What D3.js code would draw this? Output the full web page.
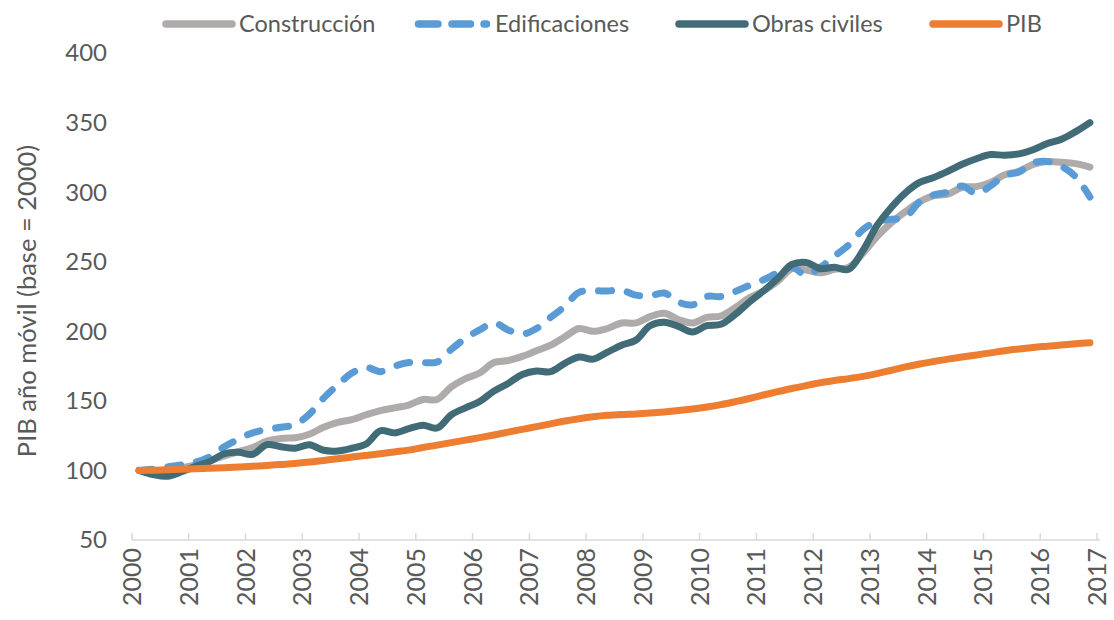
<!DOCTYPE html>
<html>
<head>
<meta charset="utf-8">
<script src="https://cdn.jsdelivr.net/npm/d3@7"></script>
<style>
  body { margin: 0; background: #fff; }
  svg text { font-family: Lato, "Noto Sans", sans-serif; fill: #595959; }
</style>
</head>
<body>
<svg id="chart"></svg>
<script>
// quarterly values, 2000Q1 .. 2016Q4 (index, 2000 = 100)
const construccion = [
  100, 99.5, 100.5, 102, 104, 107, 110.5, 113.5,
  116.5, 121, 123, 123.5, 126, 131, 134.5, 136.5,
  140, 143, 145, 147, 151, 151, 160, 166,
  170, 177.5, 179, 182, 186, 190, 196, 202,
  200, 202, 206, 206, 210.5, 213, 208.5, 206,
  210, 211, 217, 224, 229, 236, 245, 244,
  242, 244.5, 246, 256, 268, 278, 286, 293,
  297.5, 298.5, 303.5, 304, 307, 312.5, 315, 320,
  322, 321.5, 320.5, 318
];
const edificaciones = [
  100, 101, 102.5, 104, 106, 110, 117, 122.5,
  127, 129.5, 131, 133, 140.5, 152, 161.5, 170,
  174, 171, 175, 177.5, 177.5, 178, 187, 195,
  201, 206, 201, 198, 202, 210, 218, 228,
  229, 229, 229.5, 226, 225.5, 227.5, 221, 219,
  225, 225, 228.5, 233, 237, 242, 246, 240.5,
  246, 254, 262, 273, 279, 280.5, 282, 293,
  298, 300, 304.5, 299, 304.5, 312, 314.5, 321,
  322, 318.5, 311, 296.5
];
const obrasCiviles = [
  100, 97, 95.8, 99, 103, 106.5, 112, 113,
  111.5, 118.5, 117, 116, 118.5, 114.5, 114, 116,
  119, 128.5, 127, 130, 132.5, 130.5, 140, 145,
  149.5, 157, 162.5, 169, 171.5, 171, 177, 181.5,
  180, 185, 190, 193.5, 204, 206.5, 203.5, 199.5,
  204, 205, 212, 221, 229, 238, 248, 249.5,
  245, 246, 244.5, 258, 276, 289, 299.5, 307,
  310.5, 315, 320, 324, 327, 326.5, 327.5, 330.5,
  335, 338, 343.5, 350
];
const pib = [
  100, 100.2, 100.5, 100.8, 101.2, 101.6, 102, 102.5,
  103, 103.6, 104.3, 105, 106, 107.2, 108.4, 109.6,
  110.8, 112, 113.3, 114.6, 116.5, 118.2, 120, 121.8,
  123.6, 125.5, 127.5, 129.5, 131.5, 133.5, 135.5, 137.2,
  138.6, 139.6, 140.2, 140.6, 141.2, 142, 143, 144.2,
  145.6, 147.3, 149.4, 151.7, 154.2, 156.6, 158.9, 161,
  163, 164.6, 166, 167.6, 169.6, 172, 174.4, 176.5,
  178.3, 180, 181.5, 183, 184.5, 186, 187.3, 188.4,
  189.3, 190.2, 191, 191.8
];
const years = d3.range(2000, 2018);
const yTicks = [50, 100, 150, 200, 250, 300, 350, 400];

const series = [
  { name: "Construcción", values: construccion, color: "#afabab", dash: null },
  { name: "Edificaciones", values: edificaciones, color: "#5b9bd5", dash: "13,16" },
  { name: "Obras civiles", values: obrasCiviles, color: "#426b78", dash: null },
  { name: "PIB", values: pib, color: "#ed7d31", dash: null }
];

const W = 1114, H = 620;
const margin = { top: 53, right: 17, bottom: 80, left: 132 };
const width = 1097 - margin.left;
const height = 540 - margin.top;

const svg = d3.select("#chart").attr("width", W).attr("height", H);
const g = svg.append("g").attr("transform", `translate(${margin.left},${margin.top})`);

const x = d3.scaleLinear([2000, 2017], [0, width]);
const y = d3.scaleLinear([50, 400], [height, 0]);

// y labels (no axis line)
g.selectAll(".ylab")
  .data(yTicks)
  .enter().append("text")
  .attr("x", -25)
  .attr("y", d => y(d))
  .attr("dy", "0.35em")
  .attr("text-anchor", "end")
  .style("font-size", "24px")
  .text(d => d);

// x axis
const xAxis = g.append("g").attr("transform", `translate(0,${height})`);
xAxis.append("line")
  .attr("x1", 0).attr("x2", width + 3)
  .attr("stroke", "#d9d9d9").attr("stroke-width", 1.5);
xAxis.selectAll(".tick")
  .data(years)
  .enter().append("line")
  .attr("x1", d => x(d)).attr("x2", d => x(d))
  .attr("y1", 0).attr("y2", -7)
  .attr("stroke", "#d9d9d9").attr("stroke-width", 1.5);
xAxis.selectAll(".xlab")
  .data(years)
  .enter().append("text")
  .attr("transform", d => `translate(${x(d)},8) rotate(-90)`)
  .attr("dy", "0.36em")
  .attr("text-anchor", "end")
  .style("font-size", "25px")
  .text(d => d);

// y title
svg.append("text")
  .attr("transform", `translate(27,${margin.top + 248}) rotate(-90)`)
  .attr("text-anchor", "middle")
  .attr("dy", "0.35em")
  .style("font-size", "25.5px")
  .text("PIB año móvil (base = 2000)");

// lines
const line = d3.line()
  .x((d, i) => x(2000 + (i + 0.5) / 4))
  .y(d => y(d))
  .curve(d3.curveCatmullRom);

series.forEach(s => {
  g.append("path")
    .datum(s.values)
    .attr("fill", "none")
    .attr("stroke", s.color)
    .attr("stroke-width", 7)
    .attr("stroke-linecap", "round")
    .attr("stroke-linejoin", "round")
    .attr("stroke-dasharray", s.dash)
    .attr("d", line);
});

// legend
const legendX = [166, 418.5, 679, 933];
const legend = svg.append("g");
series.forEach((s, i) => {
  const lg = legend.append("g").attr("transform", `translate(${legendX[i]},24)`);
  if (s.dash) {
    [[0, 19.5], [33.5, 52], [65.5, 68]].forEach(seg => {
      lg.append("line")
        .attr("x1", seg[0]).attr("x2", seg[1])
        .attr("stroke", s.color).attr("stroke-width", 7.5)
        .attr("stroke-linecap", "round");
    });
  } else {
    lg.append("line")
      .attr("x1", 0).attr("x2", 66)
      .attr("stroke", s.color).attr("stroke-width", 7.5)
      .attr("stroke-linecap", "round");
  }
  lg.append("text")
    .attr("x", s.dash ? 76.5 : 73)
    .attr("dy", "0.35em")
    .style("font-size", "23.5px")
    .text(s.name);
});
</script>
</body>
</html>
